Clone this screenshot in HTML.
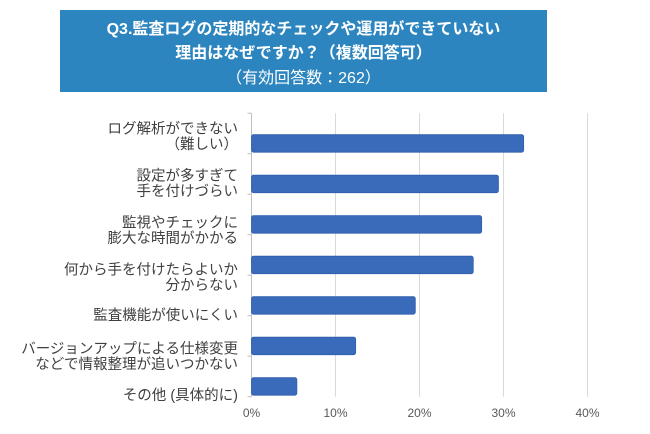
<!DOCTYPE html>
<html><head><meta charset="utf-8"><style>
body{margin:0;background:#fff;width:650px;height:434px;overflow:hidden;font-family:"Liberation Sans","Noto Sans CJK JP",sans-serif}
#title{position:absolute;left:60px;top:10px;width:487px;height:82px;background:#2c85bf;color:#fff;text-align:center}
#title div{position:absolute;left:0;right:0}
</style></head><body>
<div id="title">
<div style="top:5px;font-size:16px;font-weight:bold">Q3.監査ログの定期的なチェックや運用ができていない</div>
<div style="top:29px;font-size:16px;font-weight:bold">理由はなぜですか？（複数回答可）</div>
<div style="top:54px;font-size:16px">（有効回答数：262）</div>
</div>
<svg id="chart" width="650" height="434" style="position:absolute;left:0;top:0"></svg>
<script>
const categories=[["ログ解析ができない","（難しい）"],["設定が多すぎて","手を付けづらい"],["監視やチェックに","膨大な時間がかかる"],["何から手を付けたらよいか","分からない"],["監査機能が使いにくい"],["バージョンアップによる仕様変更","などで情報整理が追いつかない"],["その他 (具体的に)"]];
const values=[32.4,29.4,27.4,26.4,19.5,12.4,5.4];
const ticks=[0,10,20,30,40];
const tickLabels=["0%","10%","20%","30%","40%"];
const svg=document.getElementById('chart');const NS='http://www.w3.org/2000/svg';
const x0=251.5,pxPer=8.4,yTop=113.2,band=40.5;
const labelCenters=[136,183,230,277,315,356,395];
const xs=v=>x0+v*pxPer;
function mk(t,a,p){const e=document.createElementNS(NS,t);for(const k in a)e.setAttribute(k,a[k]);(p||svg).appendChild(e);return e;}
ticks.forEach((t,i)=>{
 if(i>0){const g=mk('line',{x1:xs(t),x2:xs(t),y1:yTop,y2:yTop+band*7,stroke:'#d9d9d9','stroke-width':1});
 
 }
 const l=mk('text',{x:xs(t),y:417,'text-anchor':'middle','font-size':12,fill:'#595959'});l.textContent=tickLabels[i];
 
 
});
const ax=mk('line',{x1:x0,x2:x0,y1:yTop,y2:yTop+band*7,stroke:'#bfbfbf','stroke-width':1});


for(let i=0;i<=7;i++){const tk=mk('line',{x1:x0-4,x2:x0,y1:yTop+band*i,y2:yTop+band*i,stroke:'#bfbfbf'});

}
categories.forEach((c,i)=>{
 const bt=yTop+band*i+band*0.53;
 const r=mk('rect',{x:x0,y:bt,width:xs(values[i])-x0,height:17.5,rx:2,fill:'#3a6aba',stroke:'#2f5eae','stroke-width':0.8});
 
 
 const cy=labelCenters[i];
 const t=mk('text',{'text-anchor':'end','font-size':14.5,fill:'#404040'});
 
 
 c.forEach((ln,j)=>{const s=mk('tspan',{x:238,y:cy+5+(j-(c.length-1)/2)*15.5},t);s.textContent=ln;});
});
</script>
</body></html>
